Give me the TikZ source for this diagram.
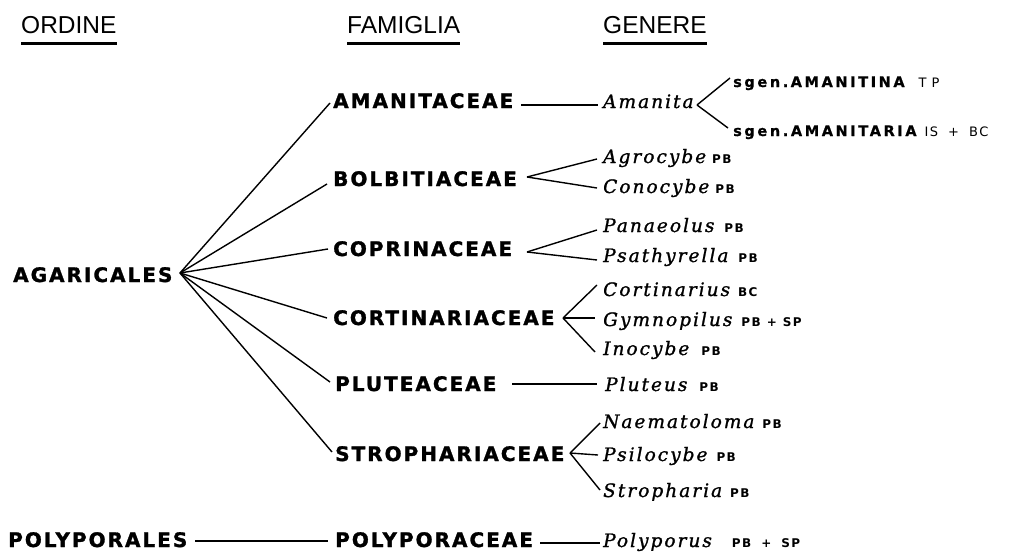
\documentclass[tikz,border=0pt]{standalone}
\usepackage{fontspec}
\usetikzlibrary{calc}
\newfontfamily\hdrfont{Liberation Sans}
\newfontfamily\famfont[LetterSpace=10,BoldFeatures={FakeBold=1.4}]{DejaVu Sans}
\newfontfamily\sgfont[LetterSpace=18,BoldFeatures={FakeBold=0.8}]{DejaVu Sans}
\newfontfamily\genfont[LetterSpace=11,ItalicFeatures={FakeBold=1.3}]{DejaVu Serif}
\newfontfamily\abbrfont[LetterSpace=12]{DejaVu Sans}
\newcommand\abbtxt[1]{{\abbrfont\upshape\bfseries\fontsize{12}{13}\selectfont #1}}
\newcommand\abbreg[1]{{\abbrfont\upshape\mdseries\fontsize{13}{14}\selectfont #1}}
\begin{document}
\begin{tikzpicture}[x=1pt,y=-1pt,
  hdr/.style={anchor=base west,inner sep=0pt,font=\hdrfont\fontsize{24.5}{25}\selectfont},
  famn/.style={anchor=base west,inner sep=0pt,font=\famfont\bfseries\fontsize{20}{22}\selectfont},
  gen/.style={anchor=base west,inner sep=0pt,font=\genfont\itshape\fontsize{18.5}{20}\selectfont},
  sgen/.style={anchor=base west,inner sep=0pt,font=\sgfont\bfseries\fontsize{14.5}{15}\selectfont},
  link/.style={line width=1.4pt,black},
  uline/.style={line width=2.5pt,black}]
\path[use as bounding box] (0,0) rectangle (1016,551);

% headers
\node[hdr] (ord) at (21,34) {ORDINE};
\node[hdr] (fmg) at (347,34) {FAMIGLIA};
\node[hdr] (gnr) at (603,34) {GENERE};
\foreach \h in {ord,fmg,gnr}
  \draw[uline] ($(\h.base west)+(0,9.5)$) -- ($(\h.base east)+(0,9.5)$);

% orders
\node[famn] (agar) at (13,282) {AGARICALES};
\node[famn] (polyales) at (8,547) {POLYPORALES};

% families
\node[famn] (amac) at (333,108) {AMANITACEAE};
\node[famn] (bolb) at (333,186) {BOLBITIACEAE};
\node[famn] (copr) at (333,256) {COPRINACEAE};
\node[famn] (cort) at (333,325) {CORTINARIACEAE};
\node[famn] (plut) at (335,391) {PLUTEACEAE};
\node[famn] (strop) at (335,461) {STROPHARIACEAE};
\node[famn] (polyac) at (335,547) {POLYPORACEAE};

% genera
\node[gen] (amanita) at (603,108) {Amanita};
\node[gen] (agro) at (603,163) {Agrocybe\hspace{6pt}\abbtxt{PB}};
\node[gen] (cono) at (603,193) {Conocybe\hspace{6pt}\abbtxt{PB}};
\node[gen] (pana) at (603,232) {Panaeolus\hspace{10pt}\abbtxt{PB}};
\node[gen] (psat) at (603,262) {Psathyrella\hspace{10pt}\abbtxt{PB}};
\node[gen] (corti) at (603,296) {Cortinarius\hspace{8pt}\abbtxt{BC}};
\node[gen] (gymn) at (603,326) {Gymnopilus\hspace{9pt}\abbtxt{PB\hspace{6pt}+\hspace{6pt}SP}};
\node[gen] (inoc) at (603,355) {Inocybe\hspace{12pt}\abbtxt{PB}};
\node[gen] (plutg) at (605,391) {Pluteus\hspace{12pt}\abbtxt{PB}};
\node[gen] (naem) at (603,428) {Naematoloma\hspace{8pt}\abbtxt{PB}};
\node[gen] (psil) at (603,461) {Psilocybe\hspace{9pt}\abbtxt{PB}};
\node[gen] (strg) at (603,497) {Stropharia\hspace{8pt}\abbtxt{PB}};
\node[gen] (polyg) at (603,547) {Polyporus\hspace{20pt}\abbtxt{PB\hspace{10pt}+\hspace{10pt}SP}};

% subgenera
\node[sgen] (sg1) at (733,87) {sgen.\,AMANITINA\hspace{14pt}\abbreg{T\hspace{5pt}P}};
\node[sgen] (sg2) at (733,136) {sgen.AMANITARIA\hspace{8pt}\abbreg{IS\hspace{10pt}+\hspace{10pt}BC}};

% fork points and line starts
\coordinate (agarF) at (180,273);
\coordinate (amL) at (521,105);
\coordinate (bolbF) at (527,177);
\coordinate (coprF) at (527,252);
\coordinate (cortF) at (563,318);
\coordinate (plutL) at (512,384);
\coordinate (stropF) at (570,453);
\coordinate (polyL) at (540,543);
\coordinate (polyalesR) at (195,541);
\coordinate (amanF) at (697,105);

% order -> families
\draw[link] (agarF) -- ($(amac.base west)+(-3,-5)$);
\draw[link] (agarF) -- ($(bolb.base west)+(-6,-2)$);
\draw[link] (agarF) -- ($(copr.base west)+(-5,-7)$);
\draw[link] (agarF) -- ($(cort.base west)+(-6,-7)$);
\draw[link] (agarF) -- ($(plut.base west)+(-5,-9)$);
\draw[link] (agarF) -- ($(strop.base west)+(-3,-9)$);
\draw[link] (polyalesR) -- ($(polyac.base west)+(-7,-6)$);

% families -> genera
\draw[link] (amL) -- ($(amanita.base west)+(-5,-3)$);
\draw[link] (bolbF) -- ($(agro.base west)+(-6,-4)$);
\draw[link] (bolbF) -- ($(cono.base west)+(-6,-5)$);
\draw[link] (coprF) -- ($(pana.base west)+(-6,-2)$);
\draw[link] (coprF) -- ($(psat.base west)+(-6,-2)$);
\draw[link] (cortF) -- ($(corti.base west)+(-6,-11)$);
\draw[link] (cortF) -- ($(gymn.base west)+(-8,-8)$);
\draw[link] (cortF) -- ($(inoc.base west)+(-8,-3)$);
\draw[link] (plutL) -- ($(plutg.base west)+(-8,-7)$);
\draw[link] (stropF) -- ($(naem.base west)+(-3,-5)$);
\draw[link] (stropF) -- ($(psil.base west)+(-5,-6)$);
\draw[link] (stropF) -- ($(strg.base west)+(-3,-7)$);
\draw[link] (polyL) -- ($(polyg.base west)+(-3,-4)$);

% genus -> subgenera
\draw[link] (amanF) -- ($(sg1.base west)+(-3,-9)$);
\draw[link] (amanF) -- ($(sg2.base west)+(-5,-8)$);
\end{tikzpicture}
\end{document}
